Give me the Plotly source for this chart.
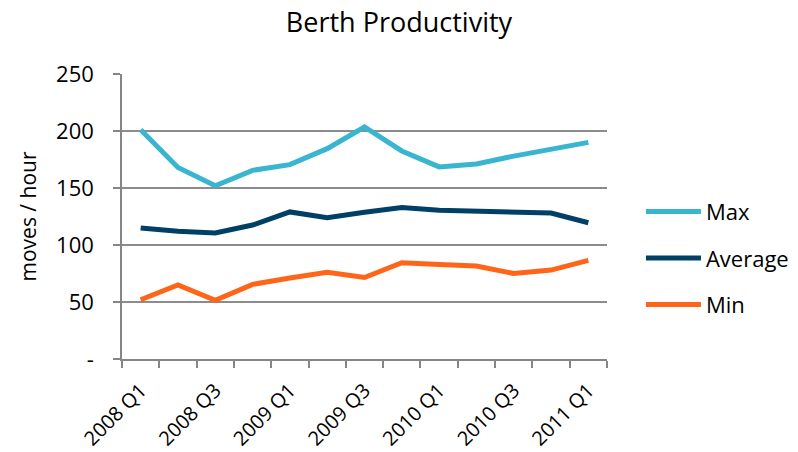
import plotly.graph_objects as go

quarters = ["2008 Q1", "2008 Q2", "2008 Q3", "2008 Q4", "2009 Q1", "2009 Q2", "2009 Q3",
            "2009 Q4", "2010 Q1", "2010 Q2", "2010 Q3", "2010 Q4", "2011 Q1"]
max_vals = [201, 168, 152, 165.5, 170.5, 184.5, 203.5, 182.5, 168.5, 171, 178, 184, 190]
avg_vals = [115, 112, 110.5, 117.5, 129, 124, 128.7, 132.8, 130.5, 129.8, 128.5, 128, 119.5]
min_vals = [52, 65, 51.5, 65.5, 71, 76, 71.5, 84.5, 83, 81.5, 75, 78, 86.5]
ytick_vals = [0, 50, 100, 150, 200, 250]
ytick_text = ["-", "50", "100", "150", "200", "250"]
xtick_text = [q if i % 2 == 0 else "" for i, q in enumerate(quarters)]

FONT = "Open Sans"
series = [("Max", max_vals, "#39B5D0"), ("Average", avg_vals, "#004066"), ("Min", min_vals, "#FF6519")]

fig = go.Figure()
for name, vals, col in series:
    fig.add_trace(go.Scatter(x=quarters, y=vals, name=name, mode="lines",
                             line=dict(color=col, width=5), legendgroup=name))

fig.update_layout(
    width=798, height=452,
    margin=dict(l=122, r=191, t=74, b=93, autoexpand=False),
    paper_bgcolor="white", plot_bgcolor="white",
    font=dict(family=FONT, color="#000000"),
    title=dict(text="Berth Productivity", x=0.5, xref="container", y=0.95, yref="container",
               xanchor="center", yanchor="middle", font=dict(size=27, family=FONT)),
    showlegend=True,
    legend=dict(x=1.07, y=0.354, xanchor="left", yanchor="middle", tracegroupgap=15,
                itemwidth=55,
                font=dict(size=22, family=FONT), bgcolor="rgba(0,0,0,0)"),
)
fig.update_xaxes(
    type="category", tickmode="array", tickvals=quarters, ticktext=xtick_text,
    tickson="boundaries", ticks="outside", ticklen=7, tickcolor="#868686", tickwidth=1.5,
    showline=True, linecolor="#868686", linewidth=1.5, showgrid=False,
    tickangle=-45, tickfont=dict(size=20, family=FONT), range=[-0.5, 12.5],
    ticklabelstandoff=10, automargin=False,
)
fig.update_yaxes(
    range=[0, 250], tickmode="array", tickvals=ytick_vals, ticktext=ytick_text,
    ticks="outside", ticklen=7, tickcolor="#868686", tickwidth=1.5,
    showline=True, linecolor="#868686", linewidth=1.5,
    showgrid=True, gridcolor="#8C8C8C", gridwidth=1.5, zeroline=False,
    tickfont=dict(size=22, family=FONT), ticklabelstandoff=15, automargin=False,
    title=dict(text="moves / hour", font=dict(size=21, family=FONT), standoff=14),
)
fig.write_html("out.html")
